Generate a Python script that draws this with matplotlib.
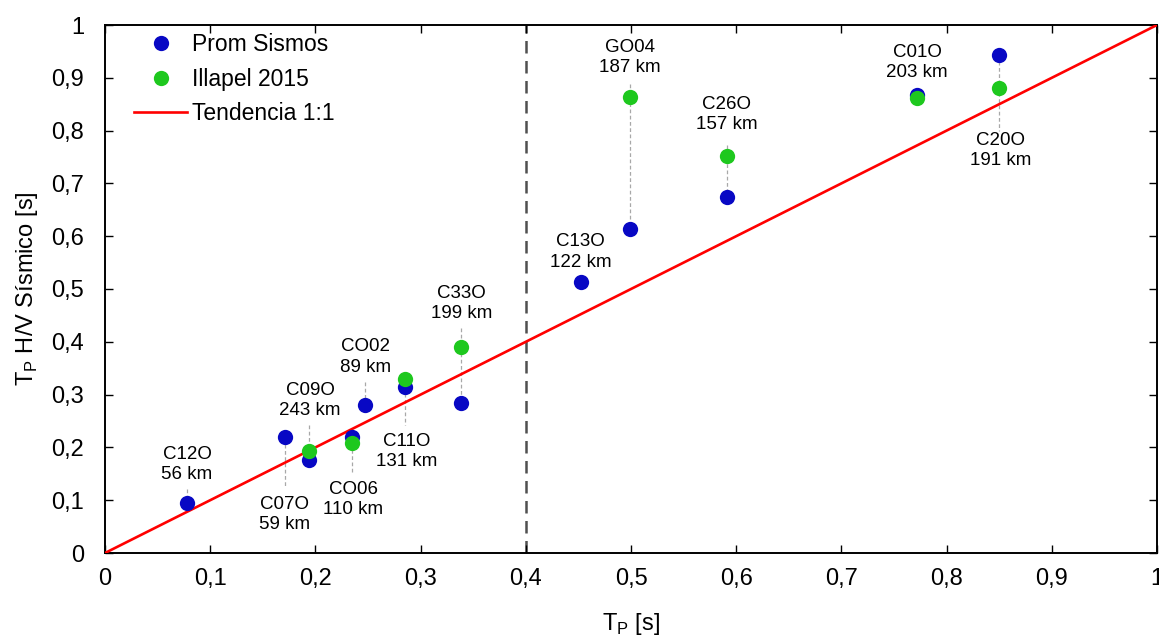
import matplotlib
matplotlib.use("Agg")
import matplotlib.pyplot as plt
from matplotlib.ticker import FuncFormatter, MultipleLocator

plt.rcParams['font.family'] = ['Liberation Sans', 'DejaVu Sans']
plt.rcParams['mathtext.fontset'] = 'custom'
plt.rcParams['mathtext.rm'] = 'Liberation Sans'

# Stations: predominant period from P-wave (x) vs seismic H/V period (y)
stations = ['C12O', 'C07O', 'C09O', 'CO06', 'CO02', 'C11O', 'C33O',
            'C13O', 'GO04', 'C26O', 'C01O', 'C20O']
distance_km = [56, 59, 243, 110, 89, 131, 199, 122, 187, 157, 203, 191]
tp = [0.078, 0.171, 0.194, 0.235, 0.247, 0.285, 0.338,
      0.452, 0.499, 0.591, 0.772, 0.850]
hv_prom = [0.095, 0.220, 0.176, 0.220, 0.280, 0.314, 0.284,
           0.513, 0.614, 0.674, 0.867, 0.943]
hv_illapel = [None, None, 0.193, 0.209, None, 0.330, 0.390,
              None, 0.864, 0.752, 0.862, 0.881]

# Label anchor (x, y centre of the two-line label) for each station
label_x = [0.078, 0.171, 0.195, 0.236, 0.248, 0.287, 0.339,
           0.452, 0.499, 0.591, 0.772, 0.851]
label_y = [0.167, 0.073, 0.289, 0.101, 0.371, 0.192, 0.473,
           0.570, 0.938, 0.831, 0.929, 0.763]
# Leader line extent (y from, y to); None where no leader is drawn
leader = [(0.121, 0.095), (0.218, 0.125), (0.242, 0.176), (0.220, 0.153),
          (0.324, 0.280), (0.314, 0.242), (0.426, 0.284), None,
          (0.888, 0.614), (0.773, 0.674), None, (0.943, 0.800)]

trend = [0.0, 1.0]
split_tp = 0.4

blue = '#0808c4'
green = '#1ec81e'

fig = plt.figure(figsize=(11.59, 6.37), dpi=100)
ax = fig.add_axes([105 / 1159, 1 - 553 / 637, 1052 / 1159, 528 / 637])

# Leader lines
for xi, ld in zip(tp, leader):
    if ld is not None:
        ax.plot([xi, xi], ld, color='#a8a8a8', lw=0.9, ls=(0, (3, 2)), zorder=2)

ax.axvline(split_tp, color='#505050', lw=1.8, ls=(0, (5, 3)), zorder=1)
ax.plot(trend, trend, color='#ff0000', lw=1.9, zorder=3, label='Tendencia 1:1')

ax.plot(tp, hv_prom, 'o', color=blue, ms=11, mec='none', zorder=4,
        label='Prom Sismos')
ix = [x for x, y in zip(tp, hv_illapel) if y is not None]
iy = [y for y in hv_illapel if y is not None]
ax.plot(ix, iy, 'o', color=green, ms=11, mec='none', zorder=5,
        label='Illapel 2015')

for name, km, lx, ly in zip(stations, distance_km, label_x, label_y):
    ax.text(lx, ly, f'{name}\n{km} km', ha='center', va='center',
            fontsize=13.5, linespacing=1.25, color='#000000', zorder=6)

ax.set_xlim(0, 1)
ax.set_ylim(0, 1)
ax.xaxis.set_major_locator(MultipleLocator(0.1))
ax.yaxis.set_major_locator(MultipleLocator(0.1))


def comma(v, pos):
    if abs(v) < 1e-9:
        return '0'
    if abs(v - 1) < 1e-9:
        return '1'
    return f'{v:.1f}'.replace('.', ',')


ax.xaxis.set_major_formatter(FuncFormatter(comma))
ax.yaxis.set_major_formatter(FuncFormatter(comma))
ax.tick_params(axis='both', direction='in', length=5.5, width=1,
               top=True, right=True, labelsize=17)
ax.tick_params(axis='x', pad=11)
ax.tick_params(axis='y', pad=15)
for s in ax.spines.values():
    s.set_linewidth(1.4)

ax.set_xlabel(r'T$_\mathregular{P}$ [s]', fontsize=17, labelpad=15)
ax.set_ylabel(r'T$_\mathregular{P}$ H/V Sísmico [s]', fontsize=17, labelpad=8)

handles, labels = ax.get_legend_handles_labels()
order = [1, 2, 0]
ax.legend([handles[i] for i in order], [labels[i] for i in order],
          loc='upper left', frameon=False, fontsize=16.5, numpoints=1,
          handlelength=2.3, handletextpad=0.22, labelspacing=0.5,
          borderaxespad=0.0, bbox_to_anchor=(0.019, 1.002))

fig.savefig('out.png', dpi=100)
